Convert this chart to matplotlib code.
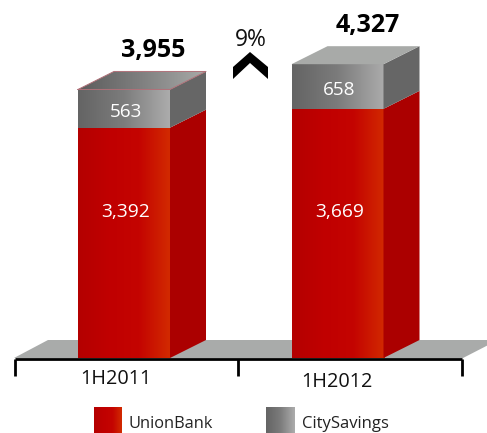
import matplotlib
matplotlib.use("Agg")
import matplotlib.pyplot as plt
import numpy as np
from matplotlib.colors import LinearSegmentedColormap
from matplotlib.patches import Polygon

categories = ["1H2011", "1H2012"]
unionbank = [3392, 3669]
citysavings = [563, 658]
totals = ["3,955", "4,327"]
growth = "9%"

plt.rcParams['font.family'] = ['Open Sans', 'DejaVu Sans']

W, H = 487, 433
PX_CAT = 213.5      # pixels between the bars
PX_UNIT = 0.0679    # pixels per unit
X0, BASE = 124, 358 # first bar centre and floor line, pixels
DX = 36 / PX_CAT
DY = 18 / PX_UNIT
BW = 92 / PX_CAT
RED_LABEL_Y = 146 / PX_UNIT  # both red labels sit at the same height

red_cm = LinearSegmentedColormap.from_list("r", ["#b40000", "#c00000", "#c40400", "#d22a00"])
gray_cm = LinearSegmentedColormap.from_list("g", ["#646464", "#7c7c7c", "#acacac"])
top_cm = LinearSegmentedColormap.from_list("t", ["#5c5c5c", "#808080", "#a8aaa8"])
grad = np.linspace(0, 1, 128).reshape(1, -1)

fig = plt.figure(figsize=(W / 100, H / 100), dpi=100)

# pixel layer for floor, axis and legend
bg = fig.add_axes([0, 0, 1, 1])
bg.set_xlim(0, W)
bg.set_ylim(H, 0)
bg.axis("off")
bg.add_patch(Polygon([(14, 358), (48, 340), (498, 340), (463, 358)], fc="#a9abaa", ec="none"))
bg.plot([15, 462], [359, 359], color="black", lw=2, solid_capstyle="butt")
for x in [15, 238, 462]:
    bg.plot([x, x], [359, 376], color="black", lw=2, solid_capstyle="butt")
bg.add_patch(Polygon([(233, 67), (250, 52), (268, 67), (268, 79), (250, 63), (233, 79)], fc="black", ec="none"))
bg.text(251, 40, growth, fontsize=16.5, ha="center", va="center", color="#111111")

bg.text(116, 379, categories[0], fontsize=14.3, ha="center", va="center", color="#111111")
bg.text(337, 382, categories[1], fontsize=14.3, ha="center", va="center", color="#111111")

bg.imshow(grad, cmap=red_cm, extent=[94, 122, 433, 407], aspect="auto")
bg.imshow(grad, cmap=gray_cm, extent=[266, 295, 433, 407], aspect="auto")
bg.text(129, 424, "UnionBank", fontsize=11.8, ha="left", va="center", color="#222222")
bg.text(302, 424, "CitySavings", fontsize=12, ha="left", va="center", color="#222222")
bg.set_xlim(0, W)
bg.set_ylim(H, 0)

# data layer for the bars
ax = fig.add_axes([0, 0, 1, 1])
ax.patch.set_alpha(0)
ax.axis("off")
xlim = (-X0 / PX_CAT, (W - X0) / PX_CAT)
ylim = (-(H - BASE) / PX_UNIT, BASE / PX_UNIT)

for i, cat in enumerate(categories):
    l, r = i - BW / 2, i + BW / 2
    red = unionbank[i]
    top = red + citysavings[i]
    ax.imshow(grad, cmap=red_cm, extent=[l, r, 0, red], aspect="auto", zorder=2)
    ax.imshow(grad, cmap=gray_cm, extent=[l, r, red, top], aspect="auto", zorder=2)
    ax.add_patch(Polygon([(r, 0), (r + DX, DY), (r + DX, red + DY), (r, red)], fc="#ab0000", ec="none", zorder=2))
    ax.add_patch(Polygon([(r, red), (r + DX, red + DY), (r + DX, top + DY), (r, top)], fc="#666666", ec="none", zorder=2))
    roof = Polygon([(l, top), (l + DX, top + DY), (r + DX, top + DY), (r, top)], fc="none", ec="none", transform=ax.transData)
    ax.add_patch(roof)
    if i == 0:
        im = ax.imshow(grad, cmap=top_cm, extent=[l, r + DX, top, top + DY], aspect="auto", zorder=2)
        im.set_clip_path(roof)
        ax.plot([l, l + DX, r + DX, r, l], [top, top + DY, top + DY, top, top], color="#b07078", lw=0.7, zorder=3)
    else:
        roof.set_facecolor("#a8aaa8")
        roof.set_zorder(2)
    ax.text(i + 2 / PX_CAT, RED_LABEL_Y, f"{red:,}", color="white", fontsize=13.8, ha="center", va="center", zorder=4)
    ax.text(i + 2 / PX_CAT, red + citysavings[i] / 2 - 3 / PX_UNIT, f"{citysavings[i]}", color="white", fontsize=13.6, ha="center", va="center", zorder=4)
    ax.text(i + (29 + i) / PX_CAT, top + DY + 21 / PX_UNIT, totals[i], color="black", fontsize=18, fontweight="bold", ha="center", va="center", zorder=4)

ax.set_xlim(*xlim)
ax.set_ylim(*ylim)

fig.savefig("out.png", dpi=100)
